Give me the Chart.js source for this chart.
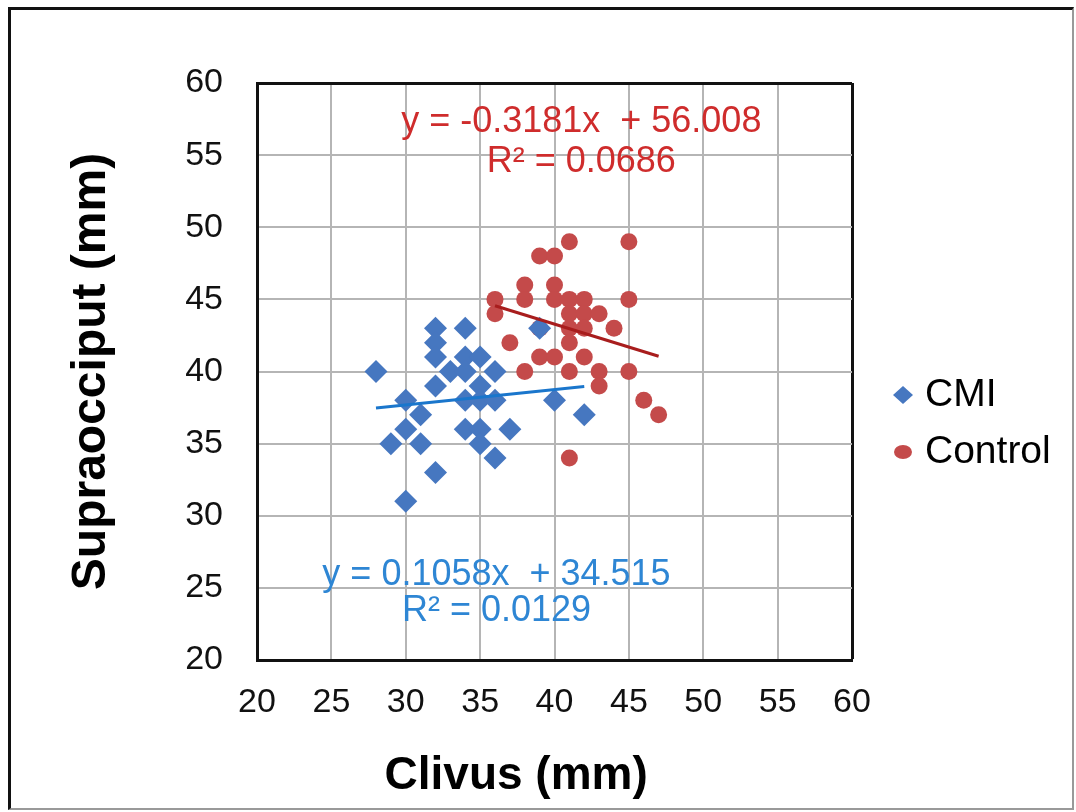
<!DOCTYPE html>
<html>
<head>
<meta charset="utf-8">
<script src="https://cdn.jsdelivr.net/npm/chart.js@4.4.1/dist/chart.umd.min.js"></script>
<style>
  html, body { margin: 0; padding: 0; background: #fff; }
  #wrap { position: relative; width: 1076px; height: 812px; }
  #frame { position: absolute; left: 8px; top: 7px; width: 1061px; height: 798px;
           border-left: 3px solid #111; border-top: 3px solid #111;
           border-right: 2px solid #999; border-bottom: 2px solid #999; pointer-events: none; }
  canvas { position: absolute; left: 0; top: 0; }
</style>
</head>
<body>
<div id="wrap">
  <canvas id="chart" width="1076" height="812"></canvas>
  <div id="frame"></div>
</div>
<script>
// CMI group (blue diamonds)
const cmiX = [28, 30, 29, 30, 31, 31, 30, 32, 32, 32, 32, 32, 33, 34, 34, 34, 34, 34, 35, 35, 35, 35, 35, 36, 36, 36, 37, 39, 40, 42];
const cmiY = [40, 38, 35, 36, 37, 35, 31, 43, 42, 41, 39, 33, 40, 43, 41, 40, 38, 36, 41, 39, 38, 36, 35, 40, 38, 34, 36, 43, 38, 37];

// Control group (red circles)
const ctrlX = [41, 45, 39, 40, 38, 40, 36, 38, 40, 41, 42, 45, 36, 41, 42, 43, 39, 41, 42, 44, 37, 41, 39, 40, 42, 38, 41, 43, 45, 43, 46, 47, 41];
const ctrlY = [49, 49, 48, 48, 46, 46, 45, 45, 45, 45, 45, 45, 44, 44, 44, 44, 43, 43, 43, 43, 42, 42, 41, 41, 41, 40, 40, 40, 40, 39, 38, 37, 34];

// linear trend lines: CMI, Control
const trendSlope = [0.1058, -0.3181];
const trendIntercept = [34.515, 56.008];
const trendText = ['y = 0.1058x  + 34.515', 'y = -0.3181x  + 56.008'];
const r2Text = ['R\u00b2 = 0.0129', 'R\u00b2 = 0.0686'];

const axisTicks = [20, 25, 30, 35, 40, 45, 50, 55, 60];
const seriesNames = ['CMI', 'Control'];
// trailing spaces nudge the centred title left, like the original
const xTitle = 'Clivus (mm)\u00a0\u00a0\u00a0\u00a0\u00a0\u00a0';
const yTitle = 'Supraocciput (mm)';

const blue = '#4677c0';
const red = '#c44a4a';
const FONT = "'Liberation Sans', Arial, sans-serif";

Chart.defaults.font.family = FONT;
Chart.defaults.color = '#000';

function pts(xs, ys) {
    return xs.map((x, i) => ({ x: x, y: ys[i] }));
}

function trendPoints(i, xs) {
    const lo = Math.min(...xs), hi = Math.max(...xs);
    return [lo, hi].map(x => ({ x: x, y: trendSlope[i] * x + trendIntercept[i] }));
}

// where the equation labels sit, in data units
const eqLabels = [
    { text: trendText[0], x: 36.1, y: 25.9, color: '#2e86d4' },
    { text: r2Text[0], x: 36.1, y: 23.4, color: '#2e86d4' },
    { text: trendText[1], x: 41.8, y: 57.3, color: '#cf2c2c' },
    { text: r2Text[1], x: 41.8, y: 54.5, color: '#cf2c2c' }
];

const equationPlugin = {
    id: 'equations',
    afterDatasetsDraw(chart) {
        const { ctx, scales } = chart;
        ctx.save();
        ctx.font = '36px ' + FONT;
        ctx.textAlign = 'center';
        ctx.textBaseline = 'middle';
        eqLabels.forEach(l => {
            ctx.fillStyle = l.color;
            ctx.fillText(l.text, scales.x.getPixelForValue(l.x), scales.y.getPixelForValue(l.y));
        });
        ctx.restore();
    }
};

// legend drawn beside the plot, Excel style
const sideLegend = {
    id: 'sideLegend',
    afterDraw(chart) {
        const { ctx, chartArea } = chart;
        const mx = chartArea.right + 51;
        const tx = chartArea.right + 73;
        const rows = [chartArea.top + 312, chartArea.top + 369];
        ctx.save();
        ctx.font = '39px ' + FONT;
        ctx.textBaseline = 'middle';
        ctx.textAlign = 'left';
        rows.forEach((ry, i) => {
            const ds = chart.data.datasets[i];
            ctx.fillStyle = ds.backgroundColor;
            ctx.beginPath();
            if (ds.pointStyle === 'rectRot') {
                ctx.moveTo(mx, ry - 9);
                ctx.lineTo(mx + 10, ry);
                ctx.lineTo(mx, ry + 9);
                ctx.lineTo(mx - 10, ry);
                ctx.closePath();
            } else {
                ctx.ellipse(mx, ry, 9, 7, 0, 0, Math.PI * 2);
            }
            ctx.fill();
            ctx.fillStyle = '#000';
            ctx.fillText(seriesNames[i], tx, ry);
        });
        ctx.restore();
    }
};

const gridColor = c => (c.tick && c.tick.value === 60 ? '#111' : '#b5b5b5');
const gridWidth = c => (c.tick && c.tick.value === 60 ? 3 : 2);

new Chart(document.getElementById('chart'), {
    type: 'scatter',
    data: {
        datasets: [
            {
                label: seriesNames[0],
                data: pts(cmiX, cmiY),
                pointStyle: 'rectRot',
                pointRadius: 11.5,
                pointHoverRadius: 11.5,
                backgroundColor: blue,
                borderWidth: 0,
                order: 1
            },
            {
                label: seriesNames[1],
                data: pts(ctrlX, ctrlY),
                pointStyle: 'circle',
                pointRadius: 8.5,
                pointHoverRadius: 8.5,
                backgroundColor: red,
                borderWidth: 0,
                order: 1
            },
            {
                type: 'line',
                label: 'CMI trend',
                data: trendPoints(0, cmiX),
                borderColor: '#1a76cc',
                borderWidth: 3,
                pointRadius: 0,
                fill: false,
                order: 0
            },
            {
                type: 'line',
                label: 'Control trend',
                data: trendPoints(1, ctrlX),
                borderColor: '#a81d1d',
                borderWidth: 3,
                pointRadius: 0,
                fill: false,
                order: 0
            }
        ]
    },
    options: {
        responsive: false,
        animation: false,
        layout: { padding: { left: 10, top: 83, right: 224, bottom: 8 } },
        plugins: {
            legend: { display: false },
            tooltip: { enabled: false }
        },
        scales: {
            x: {
                type: 'linear',
                min: 20,
                max: 60,
                afterBuildTicks: s => { s.ticks = axisTicks.map(v => ({ value: v })); },
                ticks: { font: { size: 34 }, color: '#111', padding: 22 },
                grid: { color: gridColor, lineWidth: gridWidth, drawTicks: false },
                border: { color: '#111', width: 3 },
                title: {
                    display: true,
                    text: xTitle,
                    color: '#000',
                    font: { size: 46, weight: 'bold' },
                    padding: { top: 0, bottom: 0 }
                },
                afterFit: s => { s.height = 144; }
            },
            y: {
                type: 'linear',
                min: 20,
                max: 60,
                afterBuildTicks: s => { s.ticks = axisTicks.map(v => ({ value: v })); },
                ticks: { font: { size: 34 }, color: '#111', padding: 34 },
                grid: { color: gridColor, lineWidth: gridWidth, drawTicks: false },
                border: { color: '#111', width: 3 },
                title: {
                    display: true,
                    text: yTitle,
                    color: '#000',
                    font: { size: 48, weight: 'bold' },
                    padding: { top: 53, bottom: 0 }
                },
                afterFit: s => { s.width = 247; }
            }
        }
    },
    plugins: [equationPlugin, sideLegend]
});
</script>
</body>
</html>
